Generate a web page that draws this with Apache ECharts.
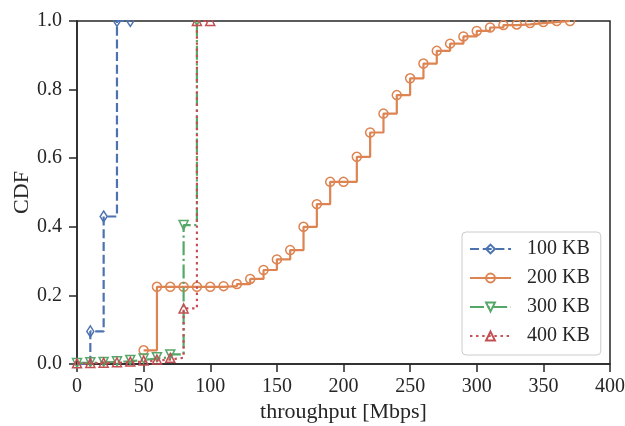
<!DOCTYPE html>
<html><head><meta charset="utf-8">
<script src="https://cdn.jsdelivr.net/npm/echarts@6/dist/echarts.min.js"></script>
<style>html,body{margin:0;padding:0;background:#fff}#c{width:625px;height:426px}</style>
</head><body><div id="c"></div>
<script>
// Data
const xTicks = [0, 50, 100, 150, 200, 250, 300, 350, 400];
const yTicks = [0, 0.2, 0.4, 0.6, 0.8, 1.0];

const x100 = [0, 10, 20, 30, 40];
const y100 = [0.0, 0.095, 0.43, 1.0, 1.0];

const x200 = [50, 60, 70, 80, 90, 100, 110, 120, 130, 140, 150, 160, 170, 180, 190, 200, 210, 220, 230, 240, 250, 260, 270, 280, 290, 300, 310, 320, 330, 340, 350, 360, 370];
const y200 = [0.04, 0.225, 0.225, 0.225, 0.225, 0.225, 0.227, 0.233, 0.248, 0.274, 0.305, 0.332, 0.400, 0.466, 0.531, 0.531, 0.604, 0.675, 0.730, 0.784, 0.833, 0.876, 0.913, 0.934, 0.955, 0.971, 0.981, 0.988, 0.990, 0.994, 0.997, 1.0, 1.0];

const x300 = [0, 10, 20, 30, 40, 50, 60, 70, 80, 90];
const y300 = [0.003, 0.005, 0.006, 0.008, 0.012, 0.016, 0.020, 0.028, 0.405, 1.0];

const x400 = [0, 10, 20, 30, 40, 50, 60, 70, 80, 90, 100];
const y400 = [0.002, 0.003, 0.004, 0.005, 0.007, 0.010, 0.013, 0.018, 0.162, 1.0, 1.0];

const names = ['100 KB', '200 KB', '300 KB', '400 KB'];
const colors = ['#4c72b0', '#dd8452', '#55a868', '#c44e52'];

function pairs(xs, ys, hideFirst) {
  return xs.map((x, i) => (hideFirst && i === 0) ? {value: [x, ys[i]], symbol: 'none'} : [x, ys[i]]);
}

const font = 'Liberation Serif';
const ink = '#262626';
const chart = echarts.init(document.getElementById('c'), null, {renderer: 'canvas'});

function mkSeries(i, xs, ys, symbol, size, rotate, dash, hideFirst) {
  return {
    name: names[i], type: 'line', step: 'end',
    data: pairs(xs, ys, hideFirst),
    symbol: symbol, symbolSize: size, symbolRotate: rotate,
    showAllSymbol: true,
    color: colors[i],
    lineStyle: {color: colors[i], width: 2.2, type: dash},
    itemStyle: {color: 'rgba(255,255,255,0)', borderColor: colors[i], borderWidth: 1.5},
    emphasis: {disabled: true},
    animation: false, z: 2 + i
  };
}

chart.setOption({
  animation: false,
  backgroundColor: '#fff',
  grid: {left: 77, right: 15, top: 21, bottom: 62, outerBoundsMode: 'none', containLabel: false,
    show: true, borderColor: ink, borderWidth: 1.5, backgroundColor: 'transparent'},
  xAxis: {
    type: 'value', min: 0, max: 400, interval: 50,
    name: 'throughput [Mbps]', nameLocation: 'middle', nameGap: 37, nameMoveOverlap: false,
    nameTextStyle: {fontFamily: font, fontSize: 22, color: ink},
    axisLine: {show: true, lineStyle: {color: ink, width: 1.5}},
    axisTick: {show: true, inside: false, length: 8, lineStyle: {color: ink, width: 1.5}},
    axisLabel: {fontFamily: font, fontSize: 20, color: ink, margin: 13,
      formatter: v => xTicks.includes(v) ? String(v) : ''},
    splitLine: {show: false}
  },
  yAxis: {
    type: 'value', min: 0, max: 1, interval: 0.2,
    name: 'CDF', nameLocation: 'middle', nameGap: 44, nameRotate: 90, nameMoveOverlap: false,
    nameTextStyle: {fontFamily: font, fontSize: 22, color: ink},
    axisLine: {show: true, lineStyle: {color: ink, width: 1.5}},
    axisTick: {show: true, inside: false, length: 8, lineStyle: {color: ink, width: 1.5}},
    axisLabel: {fontFamily: font, fontSize: 20, color: ink, margin: 15,
      formatter: v => yTicks.some(t => Math.abs(t - v) < 1e-9) ? v.toFixed(1) : ''},
    splitLine: {show: false}
  },
  legend: {
    orient: 'vertical', left: 462, top: 232,
    data: names,
    itemWidth: 41, itemHeight: 11, itemGap: 9,
    padding: [7, 11, 9, 7],
    borderColor: '#cccccc', borderWidth: 1, borderRadius: 4,
    backgroundColor: 'rgba(255,255,255,0.8)',
    textStyle: {fontFamily: font, fontSize: 20, color: ink, padding: [0, 0, 0, 11]},
    selectedMode: false
  },
  graphic: [{type: 'rect', shape: {x: 78, y: 0, width: 547, height: 20}, style: {fill: '#fff'}, z: 100, silent: true}],
  series: [
    mkSeries(0, x100, y100, 'diamond', [7, 11], 0, [9, 3.7], true),
    mkSeries(1, x200, y200, 'circle', 9, 0, 'solid', false),
    mkSeries(2, x300, y300, 'triangle', 9, 180, [14, 3.5, 2.2, 3.5], false),
    mkSeries(3, x400, y400, 'triangle', 9, 0, [2.4, 3.7], false)
  ]
});
</script></body></html>
